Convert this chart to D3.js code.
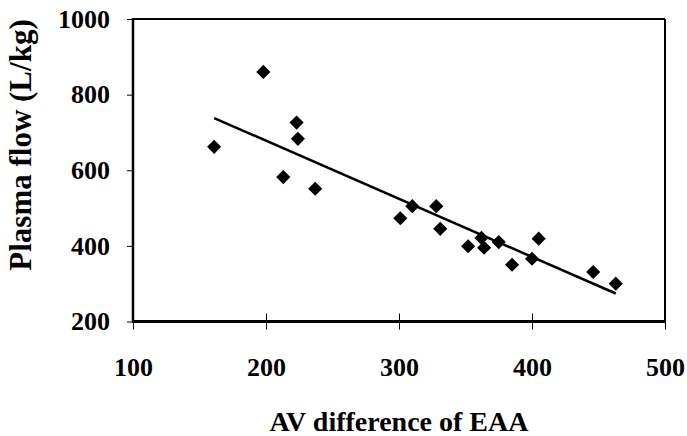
<!DOCTYPE html>
<html>
<head>
<meta charset="utf-8">
<script src="https://cdn.jsdelivr.net/npm/d3@7"></script>
<style>
  body { margin: 0; background: #fff; }
  text { font-family: "Liberation Serif", "Times New Roman", serif; font-weight: bold; fill: #000; }
</style>
</head>
<body>
<script>
/* data */
var avDiff = [161, 198, 213, 223, 224, 237, 301, 310, 328, 331, 352, 362, 364, 375, 385, 400, 405, 446, 463];
var plasmaFlow = [662, 860, 582, 726, 683, 551, 473, 505, 505, 445, 399, 421, 395, 410, 350, 366, 419, 331, 300];

/* fitted line end points */
var fitX = [161, 463];
var fitY = [738, 274];

var xTicks = [100, 200, 300, 400, 500];
var yTicks = [200, 400, 600, 800, 1000];

var width = 687, height = 436;
var plotLeft = 133, plotRight = 665, plotTop = 19, plotBottom = 321.5;
var serif = '"Liberation Serif", "Times New Roman", serif';

var svg = d3.select("body").append("svg")
    .attr("width", width)
    .attr("height", height);

var x = d3.scaleLinear().domain([100, 500]).range([plotLeft, plotRight]);
var y = d3.scaleLinear().domain([200, 1000]).range([plotBottom, plotTop]);

/* y axis */
var yAxis = d3.axisLeft(y).tickValues(yTicks).tickSize(6).tickPadding(17).tickFormat(d3.format("d"));
var yG = svg.append("g").attr("transform", "translate(" + plotLeft + ",0)").call(yAxis)
    .attr("font-family", serif).attr("font-size", 26);
yG.select(".domain").remove();
yG.selectAll("line").attr("stroke", "#000").attr("stroke-width", 1);
yG.selectAll("text").style("font-family", serif).style("font-size", "26px").style("font-weight", "bold");

/* x axis, ticks cross the line */
var xAxis = d3.axisBottom(x).tickValues(xTicks).tickSize(8).tickFormat(d3.format("d"));
var xG = svg.append("g").attr("transform", "translate(0," + plotBottom + ")").call(xAxis)
    .attr("font-family", serif).attr("font-size", 26);
xG.select(".domain").remove();
xG.selectAll("line").attr("y1", -8).attr("y2", 8).attr("stroke", "#000").attr("stroke-width", 1);
xG.selectAll("text").attr("y", 54.5).attr("dy", 0)
    .style("font-family", serif).style("font-size", "26px").style("font-weight", "bold");

/* frame */
svg.append("line").attr("x1", plotLeft).attr("x2", plotRight).attr("y1", plotTop).attr("y2", plotTop)
    .attr("stroke", "#000").attr("stroke-width", 2);
svg.append("line").attr("x1", plotRight).attr("x2", plotRight).attr("y1", plotTop).attr("y2", plotBottom)
    .attr("stroke", "#000").attr("stroke-width", 2);
svg.append("line").attr("x1", plotLeft).attr("x2", plotLeft).attr("y1", plotTop - 1).attr("y2", plotBottom + 1)
    .attr("stroke", "#000").attr("stroke-width", 2.5);
svg.append("line").attr("x1", plotLeft - 1).attr("x2", plotRight + 1).attr("y1", plotBottom).attr("y2", plotBottom)
    .attr("stroke", "#000").attr("stroke-width", 3);

/* regression line */
svg.append("line")
    .attr("x1", x(fitX[0])).attr("y1", y(fitY[0]))
    .attr("x2", x(fitX[1])).attr("y2", y(fitY[1]))
    .attr("stroke", "#000").attr("stroke-width", 2.5);

/* diamonds */
var diamond = d3.symbol().type(d3.symbolSquare).size(100);
svg.selectAll(".pt")
    .data(avDiff)
    .enter().append("path")
    .attr("class", "pt")
    .attr("d", diamond)
    .attr("transform", function (d, i) {
        return "translate(" + x(d) + "," + y(plasmaFlow[i]) + ") rotate(45)";
    })
    .attr("fill", "#000");

/* axis titles */
svg.append("text")
    .attr("x", (plotLeft + plotRight) / 2)
    .attr("y", 431)
    .attr("text-anchor", "middle")
    .style("font-size", "28px")
    .text("AV difference of EAA");

svg.append("text")
    .attr("transform", "translate(31,145) rotate(-90)")
    .attr("text-anchor", "middle")
    .style("font-size", "31px")
    .text("Plasma flow (L/kg)");
</script>
</body>
</html>
